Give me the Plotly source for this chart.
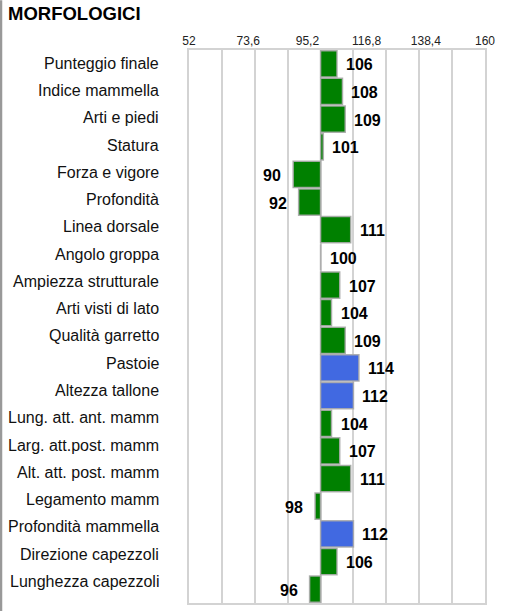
import plotly.graph_objects as go

title = "MORFOLOGICI"
categories = ["Punteggio finale", "Indice mammella", "Arti e piedi", "Statura",
              "Forza e vigore", "Profondità", "Linea dorsale", "Angolo groppa",
              "Ampiezza strutturale", "Arti visti di lato", "Qualità garretto",
              "Pastoie", "Altezza tallone", "Lung. att. ant. mamm",
              "Larg. att.post. mamm", "Alt. att. post. mamm", "Legamento mamm",
              "Profondità mammella", "Direzione capezzoli", "Lunghezza capezzoli"]
values = [106, 108, 109, 101, 90, 92, 111, 100, 107, 104, 109, 114, 112, 104,
          107, 111, 98, 112, 106, 96]
highlight = ["Pastoie", "Altezza tallone", "Profondità mammella"]
base_value = 100
tick_values = [52, 73.6, 95.2, 116.8, 138.4, 160]
tick_labels = ["52", "73,6", "95,2", "116,8", "138,4", "160"]

GREEN = "#008000"
BLUE = "#4169E1"
FONT = "Arial, Liberation Sans, sans-serif"

colors = [BLUE if c in highlight else GREEN for c in categories]

W, H = 506, 611
ml, mr, mt, mb = 189, 21, 50, 6
pw, ph = W - ml - mr, H - mt - mb
LABEL_TOP, LABEL_STEP = 63.3, 27.37   # row-label column (px from top)

fig = go.Figure()
fig.add_trace(go.Bar(
    y=categories,
    x=[v - base_value for v in values],
    base=base_value,
    orientation="h",
    marker=dict(color=colors, line=dict(color="rgba(170,170,170,0.9)", width=1.5)),
    hoverinfo="skip",
))

annotations = []
for c, v in zip(categories, values):
    right = v >= base_value
    annotations.append(dict(
        x=v, y=c, xref="x", yref="y", text="<b>%d</b>" % v, showarrow=False,
        xanchor="left" if right else "right", xshift=7 if right else -10,
        yshift=-1,
        font=dict(family=FONT, size=16, color="#000"),
    ))

# row labels sit in their own, slightly tighter column
for i, c in enumerate(categories):
    py = LABEL_TOP + LABEL_STEP * i
    annotations.append(dict(
        x=0, y=(H - mb - py) / ph, xref="paper", yref="paper", text=c,
        showarrow=False, xanchor="right", yanchor="middle", xshift=-28,
        font=dict(family=FONT, size=16, color="#111"),
    ))

fig.update_layout(
    width=W, height=H,
    margin=dict(l=ml, r=mr, t=mt, b=mb),
    paper_bgcolor="white", plot_bgcolor="white",
    bargap=0.05,
    showlegend=False,
    font=dict(family=FONT, color="#000"),
    title=dict(text="<b>%s</b>" % title, xref="container", yref="container",
               x=8 / W, xanchor="left", y=1 - 14 / H, yanchor="middle",
               font=dict(family=FONT, size=18.5, color="#000")),
    annotations=annotations,
    shapes=[dict(type="line", xref="paper", yref="paper",
                 x0=(1 - ml) / pw, x1=(1 - ml) / pw,
                 y0=(H - mb) / ph, y1=-mb / ph - 0.01,
                 line=dict(color="#999", width=2.5))],
)
fig.update_xaxes(
    side="top", range=[52, 160], tickmode="array", tickvals=tick_values,
    ticktext=tick_labels, showgrid=False, zeroline=False,
    tickfont=dict(family=FONT, size=12, color="#222"),
    ticklabelstandoff=-2,
    showline=True, mirror=True, linecolor="#d3d3d3", linewidth=2,
    minor=dict(showgrid=True, tick0=52, dtick=12, gridcolor="#d3d3d3", gridwidth=2),
    ticks="", fixedrange=True,
)
fig.update_yaxes(
    autorange="reversed", showgrid=False, zeroline=False,
    showline=True, mirror=True, linecolor="#d3d3d3", linewidth=2,
    showticklabels=False, ticks="",
    fixedrange=True,
)

fig.write_html("out.html", config={"displayModeBar": False},
               post_script="document.body.style.margin='0px';")
